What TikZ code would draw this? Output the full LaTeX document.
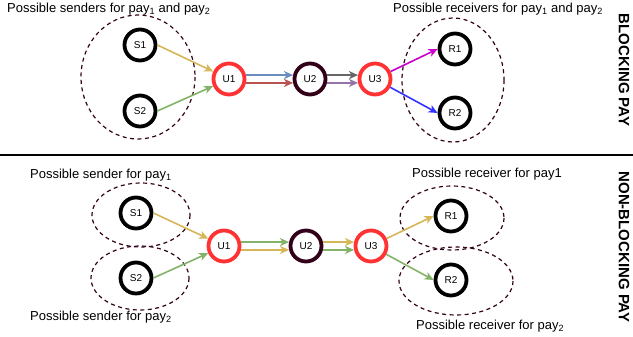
\documentclass[tikz,border=0pt]{standalone}
\usepackage{fontspec}
\setmainfont{Liberation Sans}
\usetikzlibrary{arrows.meta}
\definecolor{ured}{HTML}{FF3333}
\definecolor{udark}{HTML}{33001A}
\definecolor{cyel}{HTML}{D6B656}
\definecolor{cgrn}{HTML}{82B366}
\definecolor{cblu}{HTML}{6C8EBF}
\definecolor{cred}{HTML}{B85450}
\definecolor{cgry}{HTML}{666666}
\definecolor{cpur}{HTML}{9673A6}
\definecolor{cmag}{HTML}{CC00CC}
\definecolor{cbl2}{HTML}{3333FF}
\begin{document}
\begin{tikzpicture}[x=1pt,y=-1pt,
  pnode/.style={circle,draw=black,line width=3.8pt,fill=white,minimum size=31pt,inner sep=0pt,font=\fontsize{10}{12}\selectfont},
  unode/.style={pnode,draw=ured},
  vnode/.style={pnode,draw=udark},
  grp/.style={draw=udark,dash pattern=on 4pt off 3.5pt,line width=1.2pt},
  edge/.style={line width=1.6pt,-{Stealth[length=9pt,width=8pt,inset=2.5pt]}},
  lbl/.style={font=\fontsize{13}{15}\selectfont,inner sep=0pt,anchor=base west},
  side/.style={font=\bfseries\fontsize{15}{18}\selectfont,rotate=-90,inner sep=0pt}]
\useasboundingbox (0,0) rectangle (633,337);
\fill[white] (0,0) rectangle (633,337);

% ---------- top: blocking pay ----------
\draw[grp] (138,77) ellipse [x radius=57, y radius=62];
\draw[grp] (453,80) ellipse [x radius=51, y radius=62];

\node[pnode] (tS1) at (140,45) {S1};
\node[pnode] (tS2) at (140,111) {S2};
\node[unode] (tU1) at (229,79) {U1};
\node[vnode] (tU2) at (310,79) {U2};
\node[unode] (tU3) at (375,79) {U3};
\node[pnode] (tR1) at (455,49) {R1};
\node[pnode] (tR2) at (455,113) {R2};

\draw[edge,cyel] (tS1.east) -- (tU1);
\draw[edge,cgrn] (tS2.east) -- (tU1);
\draw[edge,cblu] (tU1.13) -- (tU2.167);
\draw[edge,cred] (tU1.-13) -- (tU2.-167);
\draw[edge,cgry] (tU2.13) -- (tU3.167);
\draw[edge,cpur] (tU2.-13) -- (tU3.-167);
\draw[edge,cmag] (tU3) -- (tR1.west);
\draw[edge,cbl2] (tU3) -- (tR2.west);

\node[lbl] (tls) at (7,12.5) {Possible senders for pay\textsubscript{1} and pay\textsubscript{2}};
\node[lbl] (tlr) at (393,12.5) {Possible receivers for pay\textsubscript{1} and pay\textsubscript{2}};
\node[side] (tside) at (624,70) {BLOCKING PAY};

\draw[line width=1.6pt] (0,155) -- (633,155);

% ---------- bottom: non-blocking pay ----------
\draw[grp] (141,215) ellipse [x radius=49, y radius=32];
\draw[grp] (140,278) ellipse [x radius=49, y radius=32];
\draw[grp] (452,218) ellipse [x radius=52, y radius=32];
\draw[grp] (456,281) ellipse [x radius=57, y radius=34];

\node[pnode] (bS1) at (136,213) {S1};
\node[pnode] (bS2) at (136,278) {S2};
\node[unode] (bU1) at (224,246) {U1};
\node[vnode] (bU2) at (306,246) {U2};
\node[unode] (bU3) at (371,246) {U3};
\node[pnode] (bR1) at (451,216) {R1};
\node[pnode] (bR2) at (451,280) {R2};

\draw[edge,cyel] (bS1.east) -- (bU1);
\draw[edge,cgrn] (bS2.east) -- (bU1);
\draw[edge,cgrn] (bU1.13) -- (bU2.167);
\draw[edge,cyel] (bU1.-13) -- (bU2.-167);
\draw[edge,cyel] (bU2.13) -- (bU3.167);
\draw[edge,cgrn] (bU2.-13) -- (bU3.-167);
\draw[edge,cyel] (bU3) -- (bR1.west);
\draw[edge,cgrn] (bU3) -- (bR2.west);

\node[lbl] (bls1) at (30,178.5) {Possible sender for pay\textsubscript{1}};
\node[lbl] (bls2) at (30,320) {Possible sender for pay\textsubscript{2}};
\node[lbl] (blr1) at (412,178) {Possible receiver for pay1};
\node[lbl] (blr2) at (416,329) {Possible receiver for pay\textsubscript{2}};
\node[side] (bside) at (624,247) {NON-BLOCKING PAY};
\end{tikzpicture}
\end{document}
